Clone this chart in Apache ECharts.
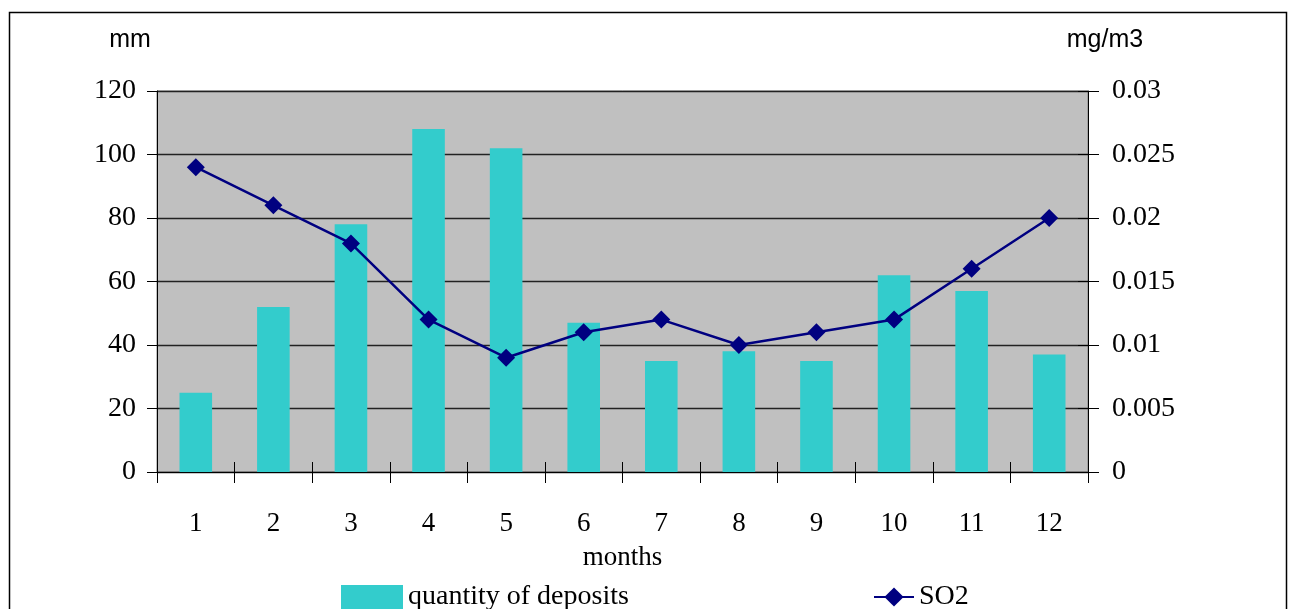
<!DOCTYPE html>
<html>
<head>
<meta charset="utf-8">
<script src="https://cdn.jsdelivr.net/npm/echarts@6/dist/echarts.min.js"></script>
<style>
  html, body { margin: 0; padding: 0; background: #fff; }
  #chart { width: 1289px; height: 609px; }
</style>
</head>
<body>
<div id="chart"></div>
<script>
// months on the x axis
var months = ['1', '2', '3', '4', '5', '6', '7', '8', '9', '10', '11', '12'];
// deposits, mm (left axis)
var deposits = [25, 52, 78, 108, 102, 47, 35, 38, 35, 62, 57, 37];
// SO2 concentration, mg/m3 (right axis)
var so2 = [0.024, 0.021, 0.018, 0.012, 0.009, 0.011, 0.012, 0.010, 0.011, 0.012, 0.016, 0.020];

var serif = '"Liberation Serif", "Times New Roman", serif';
var sans = '"Liberation Sans", Arial, sans-serif';

var dom = document.getElementById('chart');
var myChart = echarts.init(dom);

var option = {
    animation: false,
    grid: {
        left: 157, right: 201, top: 91, bottom: 137,
        show: true,
        backgroundColor: '#C0C0C0',
        borderColor: '#808080',
        borderWidth: 1
    },
    legend: [
        {
            left: 336, top: 578,
            itemWidth: 62, itemHeight: 24,
            icon: 'rect',
            data: ['quantity of deposits'],
            textStyle: {fontFamily: serif, fontSize: 28, color: '#000'}
        },
        {
            left: 868, top: 578,
            itemWidth: 40, itemHeight: 24,
            data: ['SO2'],
            textStyle: {fontFamily: serif, fontSize: 28, color: '#000'}
        }
    ],
    xAxis: [
        {
            type: 'category',
            data: months,
            name: 'months',
            nameLocation: 'middle',
            nameGap: 72,
            nameTextStyle: {fontFamily: serif, fontSize: 27, color: '#000'},
            axisLine: {show: true, lineStyle: {color: '#000', width: 1}},
            axisTick: {show: true, interval: 0, length: 11, lineStyle: {color: '#000'}},
            axisLabel: {fontFamily: serif, fontSize: 27, color: '#000', margin: 38}
        },
        {
            // inner half of the crossing tick marks
            type: 'category',
            data: months,
            position: 'bottom',
            offset: 0,
            axisLine: {show: false},
            axisTick: {show: true, interval: 0, inside: true, length: 10, lineStyle: {color: '#000'}},
            axisLabel: {show: false}
        }
    ],
    yAxis: [
        {
            type: 'value',
            min: 0, max: 120, interval: 20,
            name: 'mm',
            nameGap: 38,
            nameTextStyle: {fontFamily: sans, fontSize: 25, color: '#000', padding: [0, 54, 0, 0]},
            axisLine: {show: true, lineStyle: {color: '#000'}},
            axisTick: {show: true, length: 10, lineStyle: {color: '#000'}},
            axisLabel: {fontFamily: serif, fontSize: 28, color: '#000', margin: 21},
            splitLine: {lineStyle: {color: '#222', width: 1.3}}
        },
        {
            type: 'value',
            min: 0, max: 0.03, interval: 0.005,
            position: 'right',
            name: 'mg/m3',
            nameGap: 38,
            nameTextStyle: {fontFamily: sans, fontSize: 25, color: '#000', padding: [0, 0, 0, 34]},
            axisLine: {show: true, lineStyle: {color: '#000'}},
            axisTick: {show: true, length: 11, lineStyle: {color: '#000'}},
            axisLabel: {fontFamily: serif, fontSize: 28, color: '#000', margin: 24},
            splitLine: {show: false}
        },
        {
            // inner half of the right crossing ticks
            type: 'value',
            min: 0, max: 0.03, interval: 0.005,
            position: 'right',
            offset: 0,
            axisLine: {show: false},
            axisTick: {show: true, inside: true, length: 10, lineStyle: {color: '#000'}},
            axisLabel: {show: false},
            splitLine: {show: false}
        }
    ],
    series: [
        {
            name: 'quantity of deposits',
            type: 'bar',
            data: deposits,
            barWidth: '42%',
            itemStyle: {color: '#33CCCC'}
        },
        {
            name: 'SO2',
            type: 'line',
            yAxisIndex: 1,
            data: so2,
            symbol: 'diamond',
            symbolSize: 18,
            lineStyle: {color: '#000080', width: 2.5},
            itemStyle: {color: '#000080'}
        }
    ],
    graphic: [
        {
            type: 'rect',
            shape: {x: 9.5, y: 12.5, width: 1277, height: 640},
            style: {fill: 'none', stroke: '#000', lineWidth: 1.5},
            silent: true
        }
    ]
};

myChart.setOption(option, true);
</script>
</body>
</html>
